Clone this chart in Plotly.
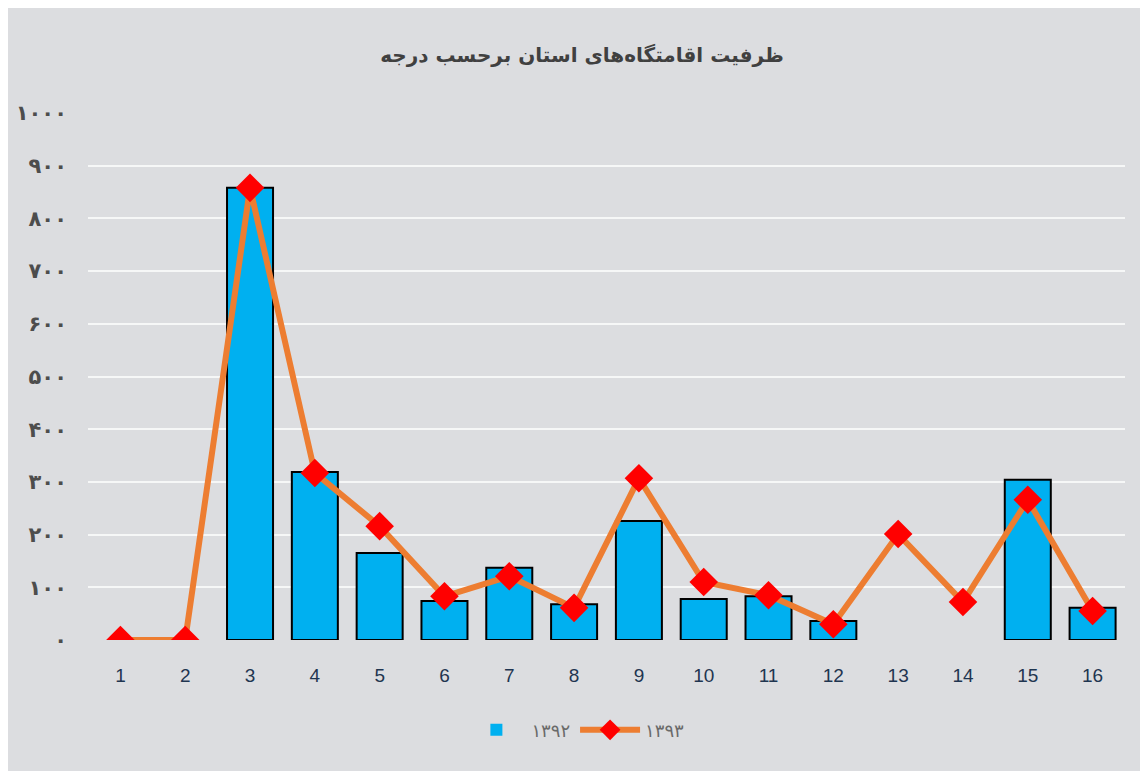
import plotly.graph_objects as go

categories = [str(i) for i in range(1, 17)]
values_1392 = [0, 0, 858, 319, 165, 74, 137, 68, 226, 78, 83, 36, 0, 0, 304, 61]
values_1393 = [0, 0, 858, 317, 216, 83, 121, 61, 307, 110, 85, 30, 201, 72, 266, 55]
y_tickvals = [0, 100, 200, 300, 400, 500, 600, 700, 800, 900, 1000]
y_ticktext = ["۰", "۱۰۰", "۲۰۰", "۳۰۰", "۴۰۰", "۵۰۰", "۶۰۰", "۷۰۰", "۸۰۰", "۹۰۰", "۱۰۰۰"]
title_text = "ظرفیت اقامتگاه‌های استان برحسب درجه"
name_1392 = "۱۳۹۲"
name_1393 = "۱۳۹۳"

bar_outline = [2 if v > 0 else 0 for v in values_1392]

fig = go.Figure()
fig.add_trace(go.Bar(
    x=categories, y=values_1392, name=name_1392,
    marker=dict(color="#00b0f0", line=dict(color="#000000", width=bar_outline)),
    width=0.71,
))
fig.add_trace(go.Scatter(
    x=categories, y=values_1393, name=name_1393, mode="lines+markers",
    line=dict(color="#ed7d31", width=6),
    marker=dict(symbol="diamond", color="#ff0000", size=22),
))

fig.update_layout(
    width=1148, height=771,
    margin=dict(l=80, r=31, t=105, b=139, autoexpand=False),
    paper_bgcolor="#dcdde0",
    plot_bgcolor="rgba(0,0,0,0)",
    title=dict(text="<b>" + title_text + "</b>", x=0.5, xanchor="center",
               y=0.939, yanchor="middle",
               font=dict(family="DejaVu Sans", size=20, color="#404040")),
    showlegend=True,
    legend=dict(orientation="h", x=0.47, xanchor="center", y=-0.171, yanchor="middle",
                font=dict(family="DejaVu Sans", size=18, color="#6a6a6a"),
                bgcolor="rgba(0,0,0,0)", traceorder="normal", itemwidth=60),
    bargap=0.29,
)
fig.update_xaxes(
    type="category", range=[-0.5, 15.5], showgrid=False, zeroline=False,
    showline=False, ticks="", ticklabelstandoff=22, automargin=False,
    tickfont=dict(family="Liberation Sans", size=19, color="#1f3550"),
)
fig.update_yaxes(
    range=[0, 1000], tickvals=y_tickvals,
    ticktext=["<b>" + t + "</b>" for t in y_ticktext],
    showgrid=True, gridcolor="rgba(255,255,255,0.75)", gridwidth=1.5,
    zeroline=False, showline=False, ticks="", ticklabelstandoff=20, automargin=False,
    tickfont=dict(family="DejaVu Sans", size=21, color="#4d4d4d"),
)

fig.write_html("out.html")
